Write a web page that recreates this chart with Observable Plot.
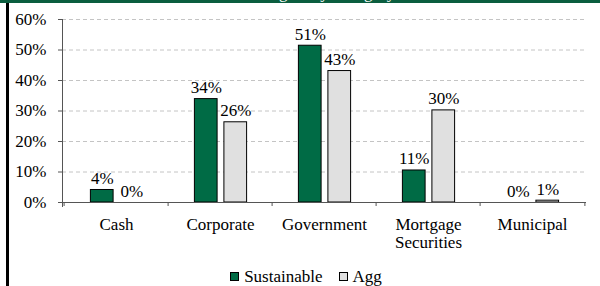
<!DOCTYPE html>
<html>
<head>
<meta charset="utf-8">
<script src="https://cdn.jsdelivr.net/npm/d3@7"></script>
<script src="https://cdn.jsdelivr.net/npm/@observablehq/plot@0.6"></script>
<style>
  #band{height:3px;background:#0b5e3f;overflow:hidden;position:relative}
  #title{position:absolute;left:0;width:600px;top:-16px;text-align:center;color:#fff;font-family:'Liberation Serif',serif;font-size:17px;line-height:17px}
  #vline{position:absolute;left:6px;top:3px;width:3px;height:283px;background:#000}
  #legend{height:28px;padding-top:8px;padding-left:12px;box-sizing:border-box;text-align:center;font-family:'Liberation Serif',serif;font-size:17px;line-height:19px;color:#000;white-space:nowrap}
  .item{display:inline-flex;align-items:center;margin:0 8px}
  .sw{display:inline-block;width:7px;height:7px;border:1px solid #000;margin-right:5px}
</style>
</head>
<body style="margin:0;background:#fff;font-family:'Liberation Serif',serif">
<div id="band"><div id="title">Sector Weights by Category</div></div>
<div id="vline"></div>
<div id="chart"></div>
<div id="legend"></div>
<script>
const categories = ["Cash", "Corporate", "Government", "Mortgage\nSecurities", "Municipal"];
const seriesNames = ["Sustainable", "Agg"];
const sustainable = [0.041, 0.339, 0.514, 0.105, 0.0];
const agg = [0.0, 0.263, 0.431, 0.302, 0.006];
const yTicks = [0, 0.1, 0.2, 0.3, 0.4, 0.5, 0.6];
const colors = ["#006b45", "#e0e0e0"];

const rows = [];
categories.forEach((c, i) => {
  rows.push({category: c, series: seriesNames[0], value: sustainable[i]});
  rows.push({category: c, series: seriesNames[1], value: agg[i]});
});

const W = 600, H = 255, mL = 62, mR = 14, FS = 17;
const band = (W - mL - mR) / categories.length;
const barW = 23.5, gap = 6;
const leftOff = (band - (2 * barW + gap)) / 2 + 0.5;
const inS = {insetLeft: leftOff, insetRight: band - leftOff - barW};
const inA = {insetLeft: leftOff + barW + gap, insetRight: band - leftOff - 2 * barW - gap};
const dxS = leftOff + barW / 2 - band / 2;
const dxA = leftOff + barW + gap + barW / 2 - band / 2;
const pct = d => Math.round(d * 100) + "%";
const serif = "'Liberation Serif', serif";

const chart = Plot.plot({
  width: W, height: H,
  marginTop: 16, marginBottom: 56, marginLeft: mL, marginRight: mR,
  style: {fontFamily: serif, fontSize: FS + "px"},
  x: {domain: categories, padding: 0, axis: null},
  y: {domain: [0, 0.6], axis: null},
  marks: [
    Plot.gridY(yTicks.slice(1), {stroke: "#c4c4c4", strokeOpacity: 1, strokeDasharray: "4,3"}),
    Plot.barY(rows.filter(d => d.series === seriesNames[0]), {x: "category", y: "value", fill: colors[0], stroke: "#000", strokeWidth: 1, ...inS}),
    Plot.barY(rows.filter(d => d.series === seriesNames[1]), {x: "category", y: "value", fill: colors[1], stroke: "#000", strokeWidth: 1, ...inA}),
    Plot.text(rows.filter(d => d.series === seriesNames[0]), {x: "category", y: "value", text: d => pct(d.value), dx: dxS, dy: -6, lineAnchor: "bottom", fill: "#000", fontSize: FS}),
    Plot.text(rows.filter(d => d.series === seriesNames[1]), {x: "category", y: "value", text: d => pct(d.value), dx: dxA, dy: -6, lineAnchor: "bottom", fill: "#000", fontSize: FS}),
    Plot.frame({anchor: "left", stroke: "#555", insetBottom: -4}),
    Plot.ruleY([0], {stroke: "#555"}),
    Plot.axisY({ticks: yTicks, tickFormat: pct, tickSize: 4, tickPadding: 12, stroke: "#555", fill: "#000", label: null, fontSize: FS}),
    Plot.axisX({ticks: categories, tickSize: 4, tickFormat: () => "", dx: -band / 2, stroke: "#555", label: null}),
    Plot.axisX({ticks: categories.slice(-1), tickSize: 4, tickFormat: () => "", dx: band / 2, stroke: "#555", label: null}),
    Plot.axisX({tickSize: 0, tickPadding: 14, label: null, lineHeight: 1.1, fill: "#000", fontSize: FS})
  ]
});
document.getElementById("chart").appendChild(chart);
d3.select(chart).selectAll("text").attr("font-family", serif);

const leg = document.getElementById("legend");
seriesNames.forEach((s, i) => {
  const item = document.createElement("span");
  item.className = "item";
  const sw = document.createElement("span");
  sw.className = "sw";
  sw.style.background = colors[i];
  item.appendChild(sw);
  item.appendChild(document.createTextNode(s));
  leg.appendChild(item);
});
</script>
</body>
</html>
